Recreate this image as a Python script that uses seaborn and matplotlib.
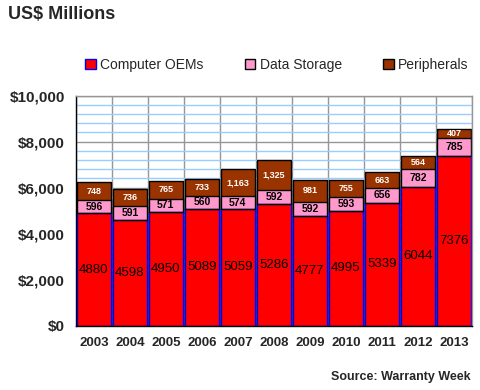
import matplotlib
matplotlib.use("Agg")
import matplotlib.pyplot as plt
from matplotlib.patches import Patch
from matplotlib.ticker import MultipleLocator, FixedLocator, FuncFormatter
import seaborn as sns
import pandas as pd

years = ["2003", "2004", "2005", "2006", "2007", "2008",
         "2009", "2010", "2011", "2012", "2013"]
computer_oems = [4880, 4598, 4950, 5089, 5059, 5286, 4777, 4995, 5339, 6044, 7376]
data_storage = [596, 591, 571, 560, 574, 592, 592, 593, 656, 782, 785]
peripherals = [748, 736, 765, 733, 1163, 1325, 981, 755, 663, 564, 407]

RED = "#FF0000"
PINK = "#FF99CC"
BROWN = "#993300"
BAR_W = 0.93

sns.set_style("white")
plt.rcParams["font.family"] = ["Liberation Sans", "DejaVu Sans"]

df = pd.DataFrame({"year": years, "oem": computer_oems,
                   "storage": data_storage, "periph": peripherals})
df["mid"] = df["oem"] + df["storage"]
df["total"] = df["mid"] + df["periph"]

fig = plt.figure(figsize=(4.8, 3.9), dpi=100)
ax = fig.add_axes([0.158, 0.165, 0.825, 0.590])

# stacked bars drawn as cumulative layers
sns.barplot(data=df, x="year", y="total", color=BROWN, saturation=1,
            edgecolor="black", linewidth=1, width=BAR_W, errorbar=None, ax=ax)
sns.barplot(data=df, x="year", y="mid", color=PINK, saturation=1,
            edgecolor="black", linewidth=1, width=BAR_W, errorbar=None, ax=ax)
sns.barplot(data=df, x="year", y="oem", color=RED, saturation=1,
            edgecolor="#0000FF", linewidth=1, width=BAR_W, errorbar=None, ax=ax)
# black border between red and pink segments
for i, v in enumerate(computer_oems):
    ax.plot([i - BAR_W / 2, i + BAR_W / 2], [v, v], color="black", lw=1)

for i, row in df.iterrows():
    ax.text(i, row["oem"] / 2, f"{row['oem']}", ha="center", va="center",
            fontsize=9.5, color="black")
    ax.text(i, row["oem"] + row["storage"] / 2, f"{row['storage']}",
            ha="center", va="center", fontsize=7.5, fontweight="bold", color="black")
    ax.text(i, row["mid"] + row["periph"] / 2, f"{row['periph']:,}",
            ha="center", va="center", fontsize=6.5, fontweight="bold", color="white")

ax.set_xlim(-0.5, len(years) - 0.5)
ax.set_ylim(0, 10000)
ax.set_xlabel("")
ax.set_ylabel("")

ax.yaxis.set_major_locator(MultipleLocator(2000))
ax.yaxis.set_minor_locator(MultipleLocator(400))
ax.yaxis.set_major_formatter(FuncFormatter(lambda v, p: f"${v:,.0f}"))
ax.xaxis.set_minor_locator(FixedLocator([k + 0.5 for k in range(-1, len(years))]))

ax.set_axisbelow(True)
ax.grid(which="minor", axis="y", color="#99CCFF", linewidth=1)
ax.grid(which="major", axis="y", color="#969696", linewidth=1)
ax.grid(which="minor", axis="x", color="#969696", linewidth=1)

ax.tick_params(axis="y", which="major", direction="inout", length=8, width=1,
               labelsize=11, pad=4)
ax.tick_params(axis="y", which="minor", direction="in", length=4, width=1)
ax.tick_params(axis="x", which="major", length=0, labelsize=9.5, pad=8)
ax.tick_params(axis="x", which="minor", direction="out", length=5, width=1)
for lab in ax.get_xticklabels() + ax.get_yticklabels():
    lab.set_fontweight("bold")

for side in ["left", "bottom"]:
    ax.spines[side].set_color("black")
    ax.spines[side].set_linewidth(1)
for side in ["top", "right"]:
    ax.spines[side].set_color("#969696")
    ax.spines[side].set_linewidth(1)

handles = [Patch(facecolor=RED, edgecolor="#0000FF", label="Computer OEMs"),
           Patch(facecolor=PINK, edgecolor="black", label="Data Storage"),
           Patch(facecolor=BROWN, edgecolor="black", label="Peripherals")]
fig.legend(handles=handles, loc="center", bbox_to_anchor=(0.577, 0.833), ncol=3,
           frameon=False, fontsize=10, handlelength=0.75, handleheight=0.75,
           handletextpad=0.3, columnspacing=3.0)

fig.text(0.017, 0.962, "US$ Millions", fontsize=13, fontweight="bold",
         ha="left", va="center")
fig.text(0.98, 0.033, "Source: Warranty Week", fontsize=9, fontweight="bold",
         ha="right", va="center")

fig.savefig("out.png", dpi=100)
